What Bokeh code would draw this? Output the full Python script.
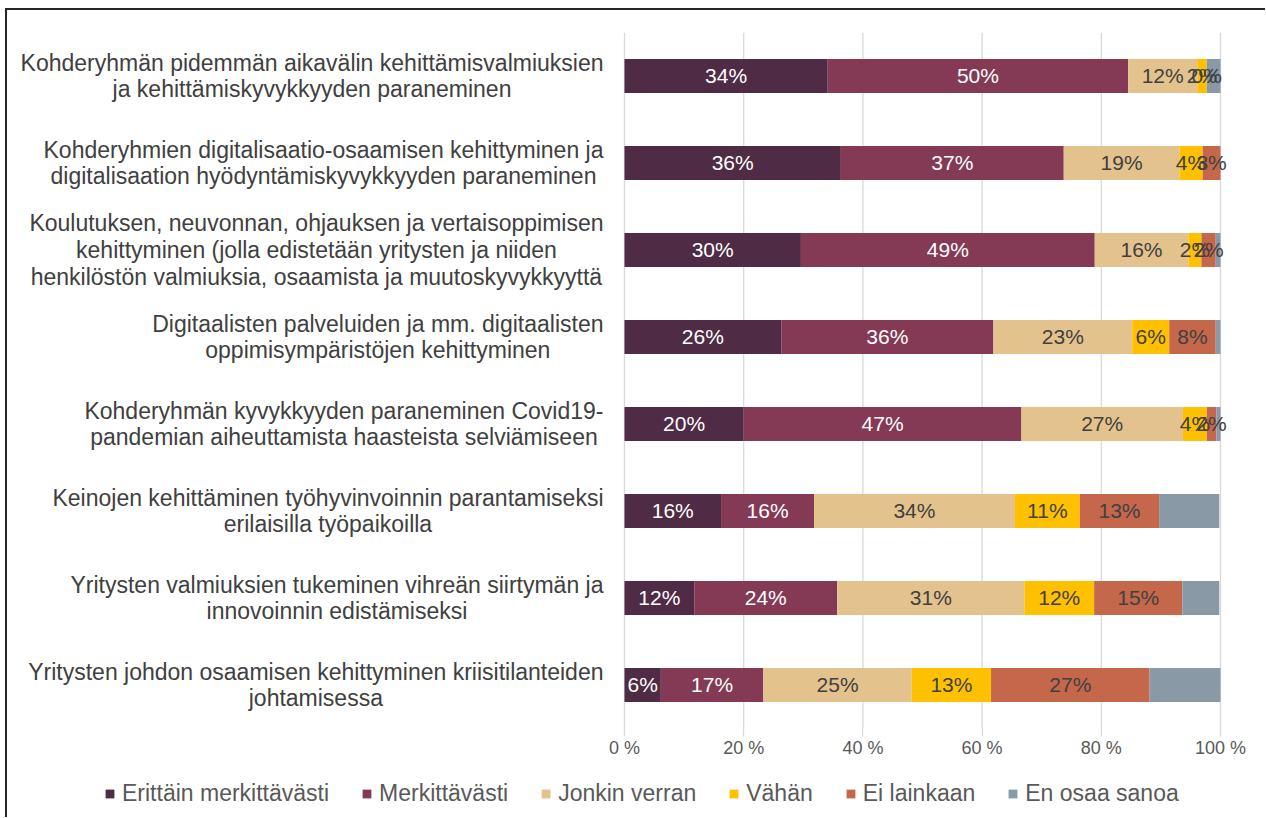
from bokeh.plotting import figure
from bokeh.models import ColumnDataSource, Legend, LegendItem, FixedTicker, Range1d, PrintfTickFormatter
from bokeh.embed import file_html
from bokeh.resources import INLINE
from bokeh.core.properties import value

categories = [
    "Kohderyhmän pidemmän aikavälin kehittämisvalmiuksien\nja kehittämiskyvykkyyden paraneminen",
    "Kohderyhmien digitalisaatio-osaamisen kehittyminen ja\ndigitalisaation hyödyntämiskyvykkyyden paraneminen",
    "Koulutuksen, neuvonnan, ohjauksen ja vertaisoppimisen\nkehittyminen (jolla edistetään yritysten ja niiden\nhenkilöstön valmiuksia, osaamista ja muutoskyvykkyyttä",
    "Digitaalisten palveluiden ja mm. digitaalisten\noppimisympäristöjen kehittyminen",
    "Kohderyhmän kyvykkyyden paraneminen Covid19-\npandemian aiheuttamista haasteista selviämiseen",
    "Keinojen kehittäminen työhyvinvoinnin parantamiseksi\nerilaisilla työpaikoilla",
    "Yritysten valmiuksien tukeminen vihreän siirtymän ja\ninnovoinnin edistämiseksi",
    "Yritysten johdon osaamisen kehittyminen kriisitilanteiden\njohtamisessa",
]

series_names = ["Erittäin merkittävästi", "Merkittävästi", "Jonkin verran",
                "Vähän", "Ei lainkaan", "En osaa sanoa"]

erittain = [34.1, 36.3, 29.6, 26.3, 20.0, 16.2, 11.7, 6.1]
merkittavasti = [50.4, 37.4, 49.3, 35.6, 46.6, 15.6, 24.0, 17.2]
jonkin_verran = [11.6, 19.4, 15.7, 23.3, 27.1, 33.7, 31.4, 24.9]
vahan = [1.6, 3.9, 2.2, 6.2, 4.0, 10.9, 11.7, 13.3]
ei_lainkaan = [0.0, 3.0, 2.4, 7.8, 1.6, 13.3, 14.8, 26.6]
en_osaa = [2.3, 0.0, 0.8, 0.8, 0.7, 10.1, 6.2, 11.9]

x_ticks = [0, 20, 40, 60, 80, 100]

series = [erittain, merkittavasti, jonkin_verran, vahan, ei_lainkaan, en_osaa]
colors = ["#4F2B45", "#843A55", "#E4C28D", "#FFC000", "#C5674A", "#8A99A6"]
label_colors = ["#FFFFFF", "#FFFFFF", "#404040", "#404040", "#404040", None]

n = len(categories)
ypos = list(range(n, 0, -1))
keys = [f"s{i}" for i in range(len(series))]
data = {"y": ypos}
for k, vals in zip(keys, series):
    data[k] = vals
src = ColumnDataSource(data)

FONT = value("Liberation Sans")

p = figure(frame_width=1258, frame_height=785,
           x_range=Range1d(-103.52, 107.55), y_range=Range1d(-0.523, n + 0.5),
           output_backend="svg", toolbar_location=None,
           y_axis_location=None, x_axis_location="below",
           min_border_left=0, min_border_right=0, min_border_top=22,
           min_border_bottom=0, outline_line_color=None,
           background_fill_color="white", border_fill_color="white")
p.styles = {"border-left": "2px solid #262626", "border-top": "2px solid #262626",
            "margin-left": "5px", "margin-top": "8px"}

# vertical gridlines over the category area only
p.xgrid.visible = False
for g in p.ygrid:
    g.visible = False
p.segment(x0=x_ticks, y0=[0.5] * len(x_ticks), x1=x_ticks, y1=[n + 0.5] * len(x_ticks),
          line_color="#D9D9D9", line_width=1.3)

renderers = p.hbar_stack(keys, y="y", height=0.39, source=src,
                         fill_color=colors, line_color=None)

# data labels
cum = [0.0] * n
for vals, lc in zip(series, label_colors):
    xs, ys, ts = [], [], []
    for j, v in enumerate(vals):
        xs.append(cum[j] + v / 2)
        ys.append(ypos[j])
        ts.append(f"{int(v + 0.5)}%")
        cum[j] += v
    if lc is not None:
        p.text(x=xs, y=ys, text=ts, text_align="center", text_baseline="middle",
               text_color=lc, text_font=FONT, text_font_size="21px")

# category labels
p.text(x=[0] * n, y=ypos, text=categories, x_offset=-21, anchor="center_right",
       text_align="center", text_baseline="middle", text_line_height=1.02,
       text_color="#404040", text_font=FONT, text_font_size="23px")

# x axis fixed at the bottom of the category area
p.xaxis.fixed_location = 0.5
p.xaxis.ticker = FixedTicker(ticks=x_ticks)
p.xaxis.formatter = PrintfTickFormatter(format="%d %%")
p.xaxis.axis_line_color = None
p.xaxis.major_tick_line_color = "#D9D9D9"
p.xaxis.major_tick_line_width = 1.3
p.xaxis.major_tick_out = 8
p.xaxis.major_tick_in = 0
p.xaxis.minor_tick_line_color = None
p.xaxis.major_label_standoff = 2
p.xaxis.major_label_text_font = "Liberation Sans"
p.xaxis.major_label_text_font_size = "18px"
p.xaxis.major_label_text_color = "#595959"

items = [LegendItem(label=name, renderers=[r]) for name, r in zip(series_names, renderers)]
legend = Legend(items=items, orientation="horizontal", location=(97, 10),
                margin=0, padding=0, spacing=32, label_standoff=7,
                glyph_width=11, glyph_height=11,
                label_text_font="Liberation Sans", label_text_font_size="23px",
                label_text_color="#595959", border_line_color=None,
                background_fill_alpha=0)
p.add_layout(legend, "center")

open("out.html", "w").write(file_html(p, INLINE))
